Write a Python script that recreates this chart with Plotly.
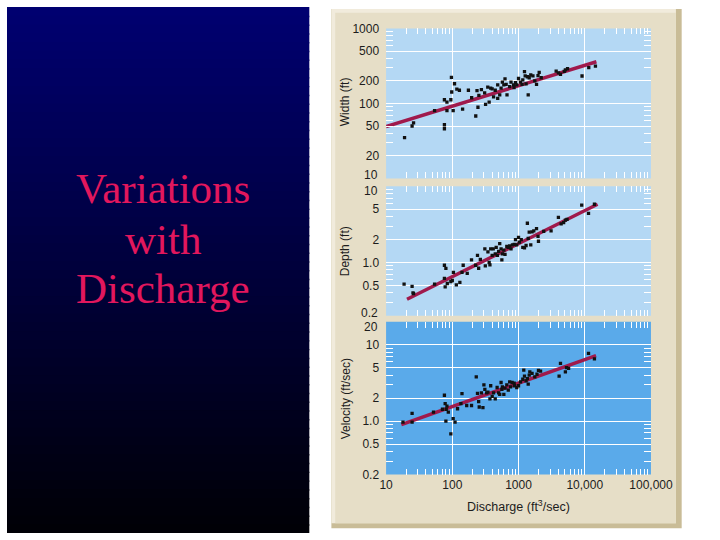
import plotly.graph_objects as go
import numpy as np

# ---------------- data ----------------
width_q = [19, 24.7, 26, 54, 76, 76, 76, 83, 83, 95, 97, 98, 103, 108, 117, 128, 143, 175, 196, 226,
           236, 244, 252, 275, 308, 318, 343, 360, 380, 400, 420, 445, 485, 485, 520, 545, 570, 600,
           625, 650, 670, 735, 770, 840, 855, 900, 940, 1000, 1070, 1130, 1160, 1230, 1260, 1300,
           1360, 1400, 1450, 1530, 1650, 1760, 1870, 1970, 2050, 2200, 3700, 4000, 4300, 4900,
           5100, 5500, 9100, 11500, 14500]
width_w = [35, 50, 55, 80, 112, 52, 46, 104, 80, 112, 223, 142, 80, 183, 155, 150, 84, 150, 119, 68,
           148, 89, 128, 153, 138, 97, 165, 104, 160, 156, 122, 150, 177, 117, 130, 160, 192, 177,
           212, 180, 130, 168, 192, 177, 163, 190, 177, 215, 192, 180, 206, 265, 233, 182,
           227, 130, 220, 240, 233, 200, 180, 235, 260, 220, 270, 255, 245, 268,
           280, 290, 232, 300, 315]

depth_q = [18.7, 24.7, 25.5, 26, 54, 76, 80, 76, 78, 84, 95, 100, 104, 115, 130, 140, 146, 168, 195,
           225, 240, 250, 265, 310, 315, 345, 360, 370, 380, 400, 415, 445, 460, 480, 500, 520, 545,
           560, 570, 600, 625, 665, 700, 735, 770, 810, 860, 900, 940, 1000, 1030, 1100, 1160, 1230,
           1300, 1360, 1400, 1450, 1530, 1600, 1700, 1870, 1970, 2000, 2400, 3100, 4000, 4400,
           4800, 5100, 5400, 9000, 11400, 14000]
depth_d = [0.52, 0.485, 0.40, 0.39, 0.52, 0.92, 0.835, 0.62, 0.48, 0.53, 0.56, 0.58, 0.74, 0.51, 0.55,
           0.74, 0.92, 0.72, 1.08, 0.92, 1.24, 0.84, 1.1, 1.51, 0.9, 1.38, 1.0, 0.93, 1.51, 1.24, 1.51,
           1.3, 1.58, 1.24, 1.4, 1.77, 1.51, 1.08, 1.3, 1.45, 1.28, 1.62, 1.58, 1.65, 1.51, 1.7, 1.73,
           2.0, 1.7, 2.14, 1.85, 2.0, 1.58, 1.56, 1.67, 3.27, 2.07, 2.5, 1.7, 2.52, 2.6, 2.78, 2.2,
           1.9, 2.56, 2.6, 3.9, 3.2, 3.33, 3.6, 3.68, 5.64, 4.4, 5.8]

vel_q = [18, 24.7, 24.7, 52, 71, 76, 78, 80, 83, 87, 81, 95, 103, 110, 120, 135, 140, 165, 195, 230,
         240, 250, 255, 275, 290, 300, 310, 330, 345, 370, 380, 400, 420, 445, 475, 500, 520, 545,
         560, 570, 600, 625, 665, 700, 735, 760, 800, 860, 870, 940, 1000, 1070, 1160, 1200, 1230,
         1300, 1360, 1400, 1450, 1480, 1600, 1760, 1900, 2000, 2150, 4100, 4300, 5100, 5300, 5700,
         11400, 14000]
vel_v = [0.97, 1.26, 0.97, 1.31, 1.43, 2.18, 1.69, 1.0, 1.57, 1.31, 1.43, 0.68, 1.08, 0.97, 1.45,
         1.69, 2.29, 1.6, 1.6, 3.8, 2.3, 1.8, 1.53, 2.34, 1.5, 2.98, 2.6, 2.34, 2.4, 1.95, 2.9, 2.1,
         2.34, 1.95, 2.75, 2.34, 2.24, 3.2, 2.6, 2.8, 2.24, 2.7, 2.98, 2.55, 3.26, 2.8, 3.2, 3.14,
         2.9, 2.75, 2.9, 3.26, 3.53, 4.64, 3.87, 3.35, 3.6, 3.05, 4.0, 4.4, 4.2, 3.8, 4.1, 4.6, 4.5,
         3.87, 5.7, 4.4, 5.0, 4.9, 7.7, 6.5]

width_fit_q = [10, 15000]
width_fit_w = [49, 360]
depth_fit_q = [20.7, 15600]
depth_fit_d = [0.33, 5.8]
vel_fit_q = [17, 14800]
vel_fit_v = [0.9, 7.2]

x_ticks = [10, 100, 1000, 10000, 100000]
x_ticktext = ["10", "100", "1000", "10,000", "100,000"]
w_ticks = [20, 50, 100, 200, 500, 1000]
w_ticktext = ["20", "50", "100", "200", "500", "1000"]
d_ticks = [0.5, 1, 2, 5]
d_ticktext = ["0.5", "1.0", "2", "5"]
v_ticks = [0.2, 0.5, 1, 2, 5, 10]
v_ticktext = ["0.2", "0.5", "1.0", "2", "5", "10"]
edge_labels = [("10", "y", 10), ("10", "y2", 10), ("0.2", "y2", 0.2), ("20", "y3", 20)]

# ---------------- styles ----------------
W, H = 720, 540
TAN = "#e6dec7"
LIGHT_BLUE = "#b4d8f4"
DARK_BLUE = "#5aaaea"
LINE_COL = "#a01a4c"
TXT = "#1c1c1c"
FONT = "Liberation Sans, Arial, sans-serif"


def px(x):
    return x / W


def py(y):
    return 1 - y / H


def minor_vals(lo_exp, hi_exp):
    out = []
    for e in range(lo_exp, hi_exp + 1):
        for m in range(2, 10):
            out.append(m * 10 ** e)
    return out


x_dom = [px(395), px(671)]
dom_top = [py(176), py(22)]
dom_mid = [py(317), py(184)]
dom_bot = [py(480), py(323)]

fig = go.Figure()

marker = dict(symbol="square", size=3.3, color="#111111", line=dict(width=0))
panels = [
    (width_q, width_w, width_fit_q, width_fit_w, "x", "y"),
    (depth_q, depth_d, depth_fit_q, depth_fit_d, "x2", "y2"),
    (vel_q, vel_v, vel_fit_q, vel_fit_v, "x3", "y3"),
]
for q, val, fq, fv, xa, ya in panels:
    fig.add_trace(go.Scatter(x=fq, y=fv, mode="lines", line=dict(color=LINE_COL, width=3.5),
                             xaxis=xa, yaxis=ya, showlegend=False, hoverinfo="skip"))
    fig.add_trace(go.Scatter(x=q, y=val, mode="markers", marker=marker,
                             xaxis=xa, yaxis=ya, showlegend=False))


def xaxis(anchor, show_labels):
    return dict(
        type="log", range=[1, 5], domain=x_dom, anchor=anchor,
        tickmode="array", tickvals=x_ticks, ticktext=x_ticktext,
        showticklabels=show_labels, ticks="inside", ticklen=6, tickcolor="white", tickwidth=1,
        mirror="ticks", showline=False, zeroline=False,
        showgrid=True, gridcolor="white", gridwidth=1.3,
        minor=dict(tickmode="array", tickvals=minor_vals(1, 4), ticks="inside", ticklen=6,
                   tickcolor="white", tickwidth=1, showgrid=False),
        tickfont=dict(family=FONT, size=12, color=TXT), ticklabelstandoff=1,
        fixedrange=True,
    )


def yaxis(anchor, dom, rng, tv, tt, lo, hi, all_major):
    return dict(
        type="log", range=rng, domain=dom, anchor=anchor,
        tickmode="array", tickvals=tv, ticktext=tt,
        ticks="inside", ticklen=7, tickcolor="white", tickwidth=1,
        mirror="ticks", showline=False, zeroline=False,
        showgrid=True, gridcolor="white", gridwidth=1.3,
        minor=dict(tickmode="array", tickvals=[v for v in minor_vals(lo, hi) if v not in all_major],
                   ticks="inside", ticklen=7, tickcolor="white", tickwidth=1, showgrid=False),
        tickfont=dict(family=FONT, size=12, color=TXT), ticklabelstandoff=6,
        fixedrange=True,
    )


# ---------------- background shapes ----------------
shapes = []
n = 60
for i in range(n):
    t = i / (n - 1)
    b = int(round(112 * (1 - t) + 6 * t))
    y0 = i * H / n
    y1 = (i + 1) * H / n + 1.5
    shapes.append(dict(type="rect", xref="paper", yref="paper", layer="below",
                       x0=0, x1=px(315), y0=py(min(y1, H)), y1=py(y0),
                       fillcolor=f"rgb(0,0,{b})", line=dict(width=0)))
shapes.append(dict(type="rect", xref="paper", yref="paper", layer="below",
                   x0=px(338), x1=px(703), y0=py(535), y1=py(2),
                   fillcolor="#c9bc97", line=dict(width=0)))
shapes.append(dict(type="rect", xref="paper", yref="paper", layer="below",
                   x0=px(338), x1=px(697), y0=py(530), y1=py(2),
                   fillcolor="#f1ebdc", line=dict(width=0)))
shapes.append(dict(type="rect", xref="paper", yref="paper", layer="below",
                   x0=px(342), x1=px(697), y0=py(530), y1=py(6),
                   fillcolor=TAN, line=dict(width=0)))

# ---------------- annotations ----------------
ann = []
for txt, yb in [("Variations", 203), ("with", 255), ("Discharge", 305)]:
    ann.append(dict(text=txt, xref="paper", yref="paper", x=px(163), y=py(yb + 10),
                    xanchor="center", yanchor="bottom", showarrow=False,
                    font=dict(family="Liberation Serif, Times New Roman, serif", size=43,
                              color="#e2175d")))
for txt, yc in [("Width (ft)", 97), ("Depth (ft)", 251), ("Velocity (ft/sec)", 402)]:
    ann.append(dict(text=txt, xref="paper", yref="paper", x=px(353), y=py(yc),
                    xanchor="center", yanchor="middle", textangle=-90, showarrow=False,
                    font=dict(family=FONT, size=12, color=TXT)))
ann.append(dict(text="Discharge (ft<sup>3</sup>/sec)", xref="paper", yref="paper",
                x=px(533), y=py(512), xanchor="center", yanchor="middle", showarrow=False,
                font=dict(family=FONT, size=12.5, color=TXT)))
for txt, ya, v in edge_labels:
    top_edge = (ya == "y2" and v == 10) or (ya == "y3" and v == 20)
    ann.append(dict(text=txt, xref="paper", yref=ya, x=px(389), y=np.log10(v),
                    xanchor="right", yanchor="middle", showarrow=False,
                    yshift=-5 if top_edge else 3,
                    font=dict(family=FONT, size=12, color=TXT)))

fig.update_layout(
    width=W, height=H, autosize=False,
    margin=dict(l=0, r=0, t=0, b=0, pad=0),
    paper_bgcolor="white", plot_bgcolor="rgba(0,0,0,0)",
    showlegend=False,
    xaxis=xaxis("y", False),
    xaxis2=xaxis("y2", False),
    xaxis3=xaxis("y3", True),
    yaxis=yaxis("x", dom_top, [1, 3], w_ticks, w_ticktext, 1, 2, [10, 20, 50, 100, 200, 500, 1000]),
    yaxis2=yaxis("x2", dom_mid, [np.log10(0.2), 1], d_ticks, d_ticktext, -1, 0, [0.2, 0.5, 1, 2, 5, 10]),
    yaxis3=yaxis("x3", dom_bot, [np.log10(0.2), np.log10(20)], v_ticks, v_ticktext, -1, 1,
                 [0.2, 0.5, 1, 2, 5, 10, 20]),
    shapes=shapes,
    annotations=ann,
)
fig.add_shape(type="rect", xref="x3 domain", yref="y3 domain", x0=0, x1=1, y0=0, y1=1,
              fillcolor=DARK_BLUE, line=dict(width=0), layer="below")
fig.add_shape(type="rect", xref="x domain", yref="y domain", x0=0, x1=1, y0=0, y1=1,
              fillcolor=LIGHT_BLUE, line=dict(width=0), layer="below")
fig.add_shape(type="rect", xref="x2 domain", yref="y2 domain", x0=0, x1=1, y0=0, y1=1,
              fillcolor=LIGHT_BLUE, line=dict(width=0), layer="below")

fig.write_html(
    "out.html",
    config={"displayModeBar": False},
    post_script="document.body.style.margin='0';document.body.style.overflow='hidden';",
)
